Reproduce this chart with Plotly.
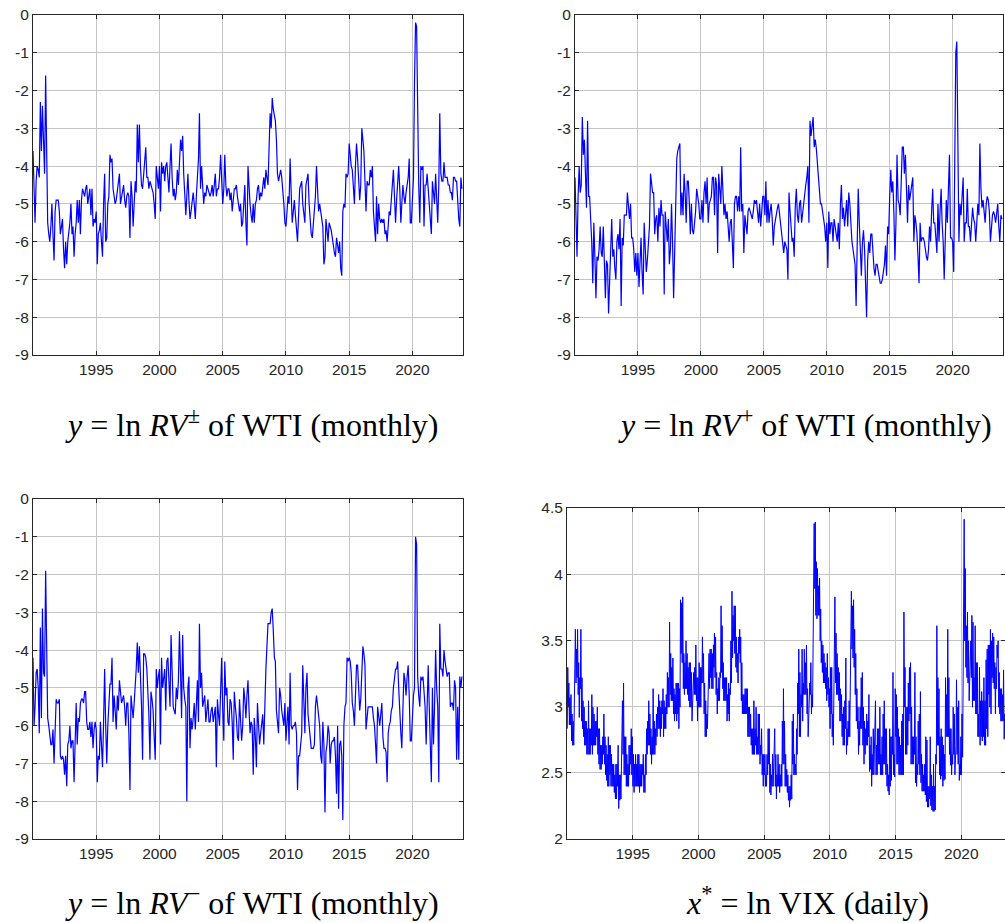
import plotly.graph_objects as go
import pandas as pd
import numpy as np

# ---------------- data ----------------
months = pd.date_range("1990-01-01", periods=408, freq="MS")

rv_total = [
 -3.6,-4.6,-5.5,-4.4,-4.0,-4.1,-4.3,-2.3,-3.6,-2.4,-3.1,-4.2,
 -1.6,-4.5,-5.5,-5.8,-6.0,-5.6,-5.0,-5.8,-6.5,-5.2,-4.9,-4.9,
 -4.9,-5.2,-5.8,-5.6,-5.4,-6.2,-6.7,-6.0,-6.6,-6.0,-5.8,-5.5,
 -5.0,-5.8,-5.6,-6.4,-5.8,-5.5,-4.9,-5.5,-4.9,-5.8,-4.9,-4.6,
 -4.7,-4.8,-4.6,-4.5,-5.0,-4.8,-4.6,-5.3,-4.6,-5.6,-5.4,-5.5,
 -5.2,-6.6,-5.8,-5.7,-5.5,-6.0,-6.4,-5.0,-4.2,-6.0,-5.9,-5.0,
 -4.8,-3.7,-3.9,-3.8,-4.6,-4.8,-5.0,-4.9,-4.7,-4.5,-4.2,-5.0,
 -4.8,-4.6,-4.5,-4.9,-5.1,-4.8,-4.7,-4.8,-5.9,-4.4,-4.8,-5.6,
 -4.7,-4.4,-4.7,-2.9,-3.9,-2.9,-4.0,-4.5,-4.6,-4.3,-4.0,-3.5,
 -4.3,-4.3,-4.6,-4.4,-4.5,-4.6,-4.7,-5.0,-5.4,-4.0,-4.3,-4.6,
 -4.0,-5.2,-3.9,-4.2,-4.0,-4.4,-4.0,-3.9,-4.3,-4.7,-4.0,-3.4,
 -4.3,-4.8,-4.6,-4.9,-4.7,-4.1,-4.5,-4.0,-3.3,-3.6,-3.2,-4.2,
 -5.0,-5.3,-4.8,-4.2,-4.9,-5.4,-5.2,-5.0,-4.7,-5.0,-5.4,-4.8,
 -4.2,-3.8,-2.6,-4.6,-4.0,-4.4,-5.0,-4.7,-4.8,-4.5,-4.6,-4.7,
 -4.8,-4.7,-4.5,-4.8,-4.4,-4.2,-4.8,-4.6,-4.6,-4.3,-3.7,-4.5,
 -5.0,-4.6,-3.7,-4.5,-4.8,-4.6,-4.6,-4.9,-4.7,-5.2,-4.8,-4.6,
 -4.6,-4.5,-4.8,-5.0,-5.2,-5.0,-5.6,-5.5,-4.9,-4.5,-5.5,-6.1,
 -4.0,-4.8,-5.0,-5.3,-5.5,-5.0,-5.5,-5.0,-4.9,-4.6,-4.5,-4.9,
 -4.7,-4.8,-4.5,-4.3,-4.6,-4.1,-4.3,-4.5,-3.5,-2.6,-3.0,-2.2,
 -2.5,-2.7,-2.8,-3.3,-4.2,-4.4,-4.2,-4.1,-4.3,-4.6,-5.0,-5.5,
 -5.6,-5.2,-4.8,-5.0,-3.8,-4.7,-5.5,-5.2,-4.9,-5.3,-5.6,-6.0,
 -5.3,-4.6,-4.5,-4.4,-5.0,-5.3,-5.5,-4.5,-4.3,-4.2,-5.0,-5.4,
 -5.8,-5.9,-5.6,-5.3,-4.8,-4.0,-4.8,-5.2,-5.0,-5.2,-5.5,-5.6,
 -6.6,-6.4,-5.4,-5.8,-6.0,-5.5,-5.6,-5.7,-5.9,-6.2,-6.3,-6.4,
 -5.9,-6.1,-6.3,-6.0,-6.7,-6.9,-5.2,-5.0,-5.1,-4.2,-4.3,-4.2,
 -3.4,-3.7,-4.0,-4.1,-4.5,-5.0,-4.0,-3.4,-3.8,-4.3,-4.9,-4.5,
 -3.0,-3.3,-3.6,-4.4,-5.2,-4.4,-4.5,-4.5,-4.1,-4.3,-4.0,-5.2,
 -5.6,-6.0,-4.8,-5.8,-5.0,-5.4,-5.5,-5.4,-5.5,-5.4,-5.8,-5.7,
 -6.0,-5.6,-5.2,-5.3,-4.8,-4.5,-4.1,-4.8,-5.5,-4.9,-4.3,-4.0,
 -4.6,-5.5,-5.0,-4.5,-4.8,-5.0,-4.7,-4.5,-4.3,-3.8,-5.5,-5.5,
 -5.0,-4.3,-1.8,-0.2,-0.3,-3.0,-4.5,-5.5,-4.0,-4.1,-4.0,-5.6,
 -4.5,-4.5,-4.2,-4.6,-5.0,-5.4,-5.8,-4.4,-4.7,-5.0,-4.2,-4.8,
 -5.5,-4.5,-2.6,-4.2,-4.4,-4.4,-3.9,-4.3,-4.3,-4.3,-4.5,-4.5,
 -4.7,-4.7,-4.9,-4.3,-4.3,-4.4,-4.4,-5.0,-5.4,-5.6,-4.3,-4.6,
]

rv_pos = [
 -4.3,-5.5,-6.4,-4.8,-4.0,-4.7,-4.5,-2.7,-3.7,-3.3,-4.0,-5.1,
 -2.8,-4.8,-4.8,-5.4,-6.0,-7.1,-5.5,-6.4,-7.5,-6.4,-6.5,-6.2,
 -5.6,-6.3,-6.4,-5.6,-7.0,-7.5,-6.5,-6.6,-7.9,-7.0,-6.2,-5.4,
 -6.4,-6.2,-6.7,-7.0,-6.0,-5.8,-6.2,-5.4,-7.7,-5.9,-6.1,-5.3,
 -5.3,-5.3,-4.7,-5.0,-5.4,-5.0,-5.9,-5.9,-6.2,-6.8,-6.3,-6.9,
 -6.3,-7.2,-6.3,-5.9,-6.8,-7.4,-5.5,-6.2,-6.8,-6.5,-6.0,-5.6,
 -4.2,-4.5,-4.7,-4.7,-5.8,-5.4,-5.3,-6.0,-5.1,-5.6,-4.9,-5.3,
 -5.3,-7.4,-5.2,-5.6,-6.0,-5.4,-6.6,-6.2,-5.0,-6.0,-7.5,-6.3,
 -4.7,-3.8,-3.6,-3.5,-3.4,-5.3,-4.7,-5.3,-4.2,-4.7,-5.5,-4.4,
 -4.4,-5.0,-5.8,-5.0,-5.7,-5.8,-5.5,-5.2,-4.6,-4.8,-5.0,-5.4,
 -5.4,-4.9,-5.5,-4.7,-4.4,-5.0,-4.3,-5.5,-5.0,-4.9,-4.8,-4.3,
 -4.3,-5.3,-4.3,-4.5,-6.3,-4.2,-4.5,-5.0,-4.0,-4.5,-5.3,-5.0,
 -5.4,-5.2,-5.8,-6.0,-5.5,-5.4,-6.0,-6.7,-5.0,-4.8,-4.8,-5.2,
 -4.8,-5.2,-3.5,-5.2,-5.0,-6.3,-5.3,-5.6,-5.8,-5.2,-5.1,-5.2,
 -5.3,-5.4,-5.2,-4.9,-5.0,-4.9,-5.2,-5.5,-5.0,-5.6,-5.2,-4.8,
 -4.8,-5.3,-4.4,-5.5,-4.9,-5.5,-5.2,-5.0,-5.4,-6.1,-5.6,-5.4,
 -5.3,-5.1,-5.0,-5.3,-5.5,-5.7,-6.0,-6.3,-6.0,-6.1,-6.2,-7.0,
 -4.7,-5.2,-5.5,-6.0,-5.9,-6.4,-5.1,-4.6,-5.3,-5.5,-5.0,-4.9,
 -5.5,-5.2,-4.9,-4.6,-4.5,-4.3,-4.0,-5.5,-2.8,-3.2,-3.0,-2.7,
 -3.5,-3.3,-3.5,-3.9,-4.3,-4.8,-5.0,-5.0,-5.2,-5.4,-5.6,-6.0,
 -5.5,-6.7,-5.2,-5.8,-5.5,-5.5,-6.0,-5.4,-5.6,-5.8,-6.0,-5.5,
 -6.2,-5.0,-4.5,-5.4,-5.1,-5.6,-5.2,-4.9,-5.6,-4.7,-5.0,-5.6,
 -6.0,-6.2,-6.4,-6.6,-7.7,-5.5,-4.6,-5.5,-6.5,-6.9,-6.0,-5.7,
 -6.2,-7.0,-8.0,-6.5,-6.0,-6.3,-5.8,-5.8,-6.4,-6.7,-6.9,-6.6,
 -6.6,-6.8,-7.0,-7.1,-7.1,-7.0,-6.8,-6.6,-6.1,-6.9,-5.6,-5.8,
 -4.8,-4.1,-4.7,-4.4,-5.2,-6.5,-5.5,-3.7,-4.9,-5.0,-5.3,-4.5,
 -3.5,-3.5,-4.2,-3.7,-5.0,-5.5,-4.5,-4.9,-4.7,-4.5,-4.3,-6.0,
 -5.3,-5.5,-5.8,-6.4,-7.1,-5.5,-6.0,-5.9,-5.9,-6.0,-6.3,-6.4,
 -6.5,-6.2,-5.6,-6.0,-5.2,-4.6,-5.5,-5.5,-5.9,-6.3,-5.0,-6.0,
 -5.2,-4.6,-5.5,-6.0,-7.0,-5.5,-4.9,-5.5,-4.5,-3.7,-5.9,-5.9,
 -6.0,-6.8,-4.0,-1.0,-0.7,-4.5,-6.0,-5.0,-5.3,-4.8,-4.3,-6.0,
 -5.5,-5.5,-4.6,-5.6,-5.6,-6.0,-5.5,-5.1,-5.4,-5.5,-6.0,-5.5,
 -5.0,-5.3,-3.4,-4.6,-5.1,-4.9,-5.2,-5.5,-5.0,-4.8,-4.9,-5.2,
 -6.0,-5.6,-5.3,-5.2,-5.3,-5.5,-5.2,-5.0,-5.6,-6.0,-5.3,-5.4,
]

rv_neg = [
 -4.2,-6.0,-5.5,-4.6,-4.5,-5.0,-6.2,-3.4,-5.8,-2.9,-4.6,-4.7,
 -1.9,-4.0,-5.8,-6.0,-6.3,-6.5,-6.5,-6.1,-7.0,-6.0,-5.3,-5.4,
 -5.4,-5.3,-6.8,-6.9,-6.8,-6.9,-7.3,-6.8,-7.6,-6.5,-6.4,-6.0,
 -6.6,-6.4,-6.4,-7.5,-6.5,-5.4,-6.5,-5.8,-5.9,-5.4,-5.3,-5.3,
 -5.4,-5.1,-5.1,-5.9,-6.1,-6.1,-5.9,-6.3,-5.9,-6.6,-6.1,-5.9,
 -6.1,-7.5,-6.8,-6.9,-5.9,-6.5,-7.1,-5.9,-4.5,-6.0,-7.0,-6.0,
 -5.5,-4.9,-4.9,-4.2,-5.9,-5.2,-5.6,-6.1,-5.2,-5.6,-4.8,-5.1,
 -5.4,-5.3,-5.2,-5.5,-6.0,-5.4,-5.4,-6.2,-7.7,-5.2,-5.5,-5.8,
 -5.4,-5.0,-4.5,-3.8,-4.6,-3.9,-4.5,-5.5,-6.9,-4.1,-4.1,-4.2,
 -4.5,-5.0,-5.7,-6.9,-5.1,-5.3,-5.6,-6.3,-6.9,-4.5,-5.0,-4.7,
 -4.5,-6.5,-4.2,-5.0,-4.8,-4.5,-5.6,-4.3,-4.2,-5.0,-5.5,-3.6,
 -4.5,-5.5,-5.6,-5.7,-5.0,-5.3,-4.8,-3.5,-4.6,-5.8,-3.6,-5.0,
 -5.3,-5.5,-8.0,-5.0,-4.7,-6.6,-5.8,-6.1,-5.8,-5.4,-6.1,-5.5,
 -4.8,-5.9,-3.3,-5.0,-4.6,-5.5,-5.3,-5.2,-5.9,-5.5,-5.3,-5.9,
 -5.9,-5.6,-5.5,-5.9,-5.7,-5.5,-7.1,-5.3,-5.7,-6.0,-5.1,-4.2,
 -5.6,-6.4,-4.3,-5.2,-5.0,-5.9,-6.0,-5.3,-5.4,-5.9,-6.9,-5.1,
 -5.5,-5.8,-6.3,-6.4,-5.3,-6.0,-6.4,-6.0,-5.0,-5.3,-5.8,-5.2,
 -4.8,-5.6,-6.2,-5.9,-6.0,-7.3,-5.8,-6.3,-7.1,-5.4,-6.0,-6.5,
 -6.2,-6.0,-5.7,-6.5,-5.0,-4.5,-3.9,-3.3,-3.3,-3.3,-3.0,-2.9,
 -3.5,-4.2,-4.3,-5.6,-5.9,-6.2,-5.0,-5.2,-5.6,-5.8,-6.0,-5.4,
 -6.4,-5.9,-5.5,-6.5,-4.6,-6.0,-6.1,-6.0,-6.0,-5.9,-6.2,-7.7,
 -6.8,-6.8,-6.5,-6.2,-4.4,-5.5,-6.2,-5.0,-4.6,-5.7,-6.0,-6.3,
 -6.6,-6.6,-6.6,-6.5,-5.5,-5.2,-5.5,-5.8,-6.0,-6.8,-7.0,-5.9,
 -6.5,-8.3,-6.7,-6.5,-6.0,-6.2,-7.0,-6.5,-6.4,-6.4,-6.3,-6.8,
 -7.8,-6.0,-8.2,-6.5,-6.4,-6.8,-8.5,-6.0,-5.5,-5.4,-4.2,-4.3,
 -4.2,-4.3,-4.6,-5.4,-5.6,-6.0,-5.0,-4.4,-4.4,-5.2,-5.6,-5.3,
 -4.5,-3.9,-4.1,-4.4,-6.1,-5.7,-5.5,-5.5,-5.5,-5.5,-5.5,-5.8,
 -6.0,-6.5,-7.0,-5.5,-5.7,-6.0,-5.7,-5.4,-6.3,-6.6,-6.6,-6.7,
 -7.5,-6.2,-6.0,-5.9,-5.6,-5.5,-5.0,-4.8,-4.5,-4.5,-4.3,-5.0,
 -5.8,-6.2,-6.6,-5.5,-4.6,-4.8,-5.2,-4.7,-4.4,-5.2,-6.4,-6.4,
 -5.6,-5.2,-5.0,-1.0,-1.2,-4.7,-5.2,-5.5,-4.7,-4.8,-4.7,-5.2,
 -5.5,-6.5,-5.0,-4.4,-5.5,-6.5,-7.5,-5.0,-6.5,-5.5,-4.0,-5.0,
 -5.5,-7.5,-3.3,-4.5,-4.5,-4.7,-4.0,-4.3,-4.5,-4.7,-4.6,-4.6,
 -5.5,-5.4,-5.4,-5.6,-4.8,-5.0,-6.9,-5.5,-6.9,-4.7,-5.0,-4.7,
]

# VIX level, monthly low and high of the daily closes (plotted as ln VIX)
vix_low = [
 17,20,17.5,17.5,15.5,15,15,21,24,25,22,18.5,
 23,18,17,16,15,15,14,14,14,14,15,14,
 15,15,15,16,14,13,12.5,12.5,13,14,13,12,
 11.5,11,11,12,11,11,11,10.5,10,10,11,9.3,
 9.9,10,13,14,12,12,11,11,11,12,13,12,
 11,10.5,11,11,11,11,10.5,11,11,12,10.5,10.5,
 12,14,15,15,14,13,14,14,14,15,16,17,
 17,16,17,19,16,17,17,19,20,20,22,21,
 21,19,18,19,18,19,17,20,30,28,23,22,
 23,23,22,21,20,20,18,22,22,22,21,18,
 20,20,20,24,24,19,16,16,17,22,23,25,
 23,23,27,25,22,19,21,21,25,26,23,21,
 21,21,18,19,18,22,24,29,33,30,27,26,
 24,30,28,21,19,19,19,19,19,16,16,16,
 15,14,14,14,15,14,14,14,13,14,12,11,
 12,11,11,12,13,10.5,10.3,11,11,13,11,10,
 11,11,10.5,11,11,13,13,11,11,10.5,9.9,9.4,
 9.9,10,13,12,12,12,14,19,16,16,20,18,
 22,22,22,19,16,19,22,19,20,39,49,40,
 39,40,40,33,28,26,24,24,23,21,22,20,
 17,19,16,15,20,24,22,22,21,18,18,16,
 15,15,17,14,15,16,16,23,31,29,27,22,
 18,17,14,15,17,17,15,13,14,15,15,16,
 12.3,12.5,11,12,12,15,12,12,13,13,12,12,
 12,13,13,12,11,10.6,10.3,11,11.5,14,12,11.8,
 16,13,13,12,12,12,12,12,20,14,14,15,
 18,19,13,13,13,14,11.3,11,12,13,12,11.3,
 10.6,10.6,10.6,10.3,9.8,9.4,9.4,10,9.5,9.2,9.1,9.1,
 9.2,13,15,15,12,11.6,11.9,11,11.5,11.6,16,16,
 16,14,12.9,12,13,14,12,15,14,13,11.5,12,
 12,13.7,33,33,27,25,24,21,25,25,20,21,
 21,19,19,16,16,15,16,15.5,16,15,15,17,
 16,22,20,19,25,24,23,19,23,29,20,19,
 18,18,18,15.7,16,13,12.9,13,13,16,12.5,12.1,
]
vix_high = [
 27,24,21.5,22,19,18,21,36,31,36,28,25,
 36,25,21,20,18,18,17,21,17,17,22,20,
 19,18,18,20,17,17,15,15,16,19,16,15,
 14,16,15,15,14,13,13,12,13,13,15,12,
 12,16,21,24,16,16,14,13,15,15,17,16,
 14,13,14,13,14,14,13,13,13,14,12,14,
 17,18,21,19,17,16,23,18,17,19,20,22,
 21,20,21,23,21,20,22,26,25,38,30,27,
 29,23,22,24,24,24,23,45,44,46,30,28,
 33,30,27,28,28,26,22,26,27,32,25,25,
 28,27,27,34,30,24,21,19,21,30,31,31,
 30,32,35,34,26,23,25,26,43,37,28,25,
 25,25,22,24,23,33,48,40,43,43,34,30,
 34,36,34,28,22,22,23,23,23,20,20,19,
 17,17,21,17,20,16,19,19,15,17,14,14,
 14,12,14,17,17,13,12,14,14,17,14,12,
 14,13,12,13,18,23,18,14,12.5,12,11,11,
 12,18,19,14,13,17,24,31,26,22,31,24,
 31,28,32,23,20,24,28,22,46,80,81,60,
 57,50,53,42,33,32,30,28,27,30,25,23,
 27,27,19,22,46,35,30,27,26,23,22,19,
 20,21,29,17,18,21,25,48,43,45,36,30,
 23,20,18,20,25,26,20,18,17,19,18,22,
 15,16,14,17,15,21,15,17,17,20,14,16,
 19,21,17,17,13,12,17,16,16,26,14,23,
 22,20,17,16,15,18,19,41,27,20,20,24,
 27,28,20,16,16,26,16,13,18,19,22.5,14,
 13,12,13,16,15.6,11,11,16,12,11,13,11,
 14,37,25,23,16,17,16,15,14,25,22,36,
 25,17,17,14,20,19,14,24.6,20,21,13,16,
 19,40,82.7,57,37,41,33,24,33,40,38,25,
 37,28,28,19,27,21,22.5,21,25,21,28.6,31,
 32,32,36,33,35,34,28,27,32,33,26,23,
 23,22,26.5,19,18.5,16,14.5,17.9,18,21.7,15,13,
]

year_ticks = [1995, 2000, 2005, 2010, 2015, 2020]
rv_ticks = [0, -1, -2, -3, -4, -5, -6, -7, -8, -9]
vix_ticks = [2, 2.5, 3, 3.5, 4, 4.5]

# ---------------- build ----------------
vix_x, vix_y = [], []
for m, lo, hi in zip(months, vix_low, vix_high):
    vix_x += [m + pd.Timedelta(days=7), m + pd.Timedelta(days=21)]
    vix_y += [np.log(lo), np.log(hi)]

W, H = 1005, 923
def xd(a, b):
    return [a / W, min(b / W, 1.0)]
def yd(top, bot):
    return [1 - bot / H, 1 - top / H]

BLUE = "#0000ff"
fig = go.Figure()
fig.add_trace(go.Scatter(x=months, y=rv_total, mode="lines", line=dict(color=BLUE, width=1.2), xaxis="x", yaxis="y"))
fig.add_trace(go.Scatter(x=months, y=rv_pos, mode="lines", line=dict(color=BLUE, width=1.2), xaxis="x2", yaxis="y2"))
fig.add_trace(go.Scatter(x=months, y=rv_neg, mode="lines", line=dict(color=BLUE, width=1.2), xaxis="x3", yaxis="y3"))
fig.add_trace(go.Scatter(x=vix_x, y=vix_y, mode="lines", line=dict(color=BLUE, width=1), xaxis="x4", yaxis="y4"))

tick_font = dict(family="Liberation Sans, Arial, sans-serif", size=15.5, color="#262626")
def xaxis(dom, anchor, end="2024-01-01"):
    return dict(domain=dom, anchor=anchor, type="date",
                range=["1990-01-01", end],
                tickvals=[f"{y}-01-01" for y in year_ticks],
                ticktext=[str(y) for y in year_ticks],
                showgrid=True, gridcolor="#c4c4c4", gridwidth=1,
                showline=True, linecolor="#262626", linewidth=1, mirror="ticks",
                ticks="inside", ticklen=4, tickcolor="#262626",
                tickfont=tick_font, zeroline=False, fixedrange=True)
def yaxis(dom, anchor, rng, tv):
    return dict(domain=dom, anchor=anchor, range=rng,
                tickvals=tv, ticktext=[("%g" % v) for v in tv],
                showgrid=True, gridcolor="#c4c4c4", gridwidth=1,
                showline=True, linecolor="#262626", linewidth=1, mirror="ticks",
                ticks="inside", ticklen=4, tickcolor="#262626",
                tickfont=tick_font, zeroline=False, fixedrange=True)

fig.update_layout(
    width=W, height=H, margin=dict(l=0, r=0, t=0, b=0, autoexpand=False),
    paper_bgcolor="white", plot_bgcolor="white", showlegend=False,
    xaxis=xaxis(xd(33, 463), "y"),   yaxis=yaxis(yd(15, 355), "x", [-9, 0], rv_ticks),
    xaxis2=xaxis(xd(575, 1003), "y2"), yaxis2=yaxis(yd(15, 355), "x2", [-9, 0], rv_ticks),
    xaxis3=xaxis(xd(33, 463), "y3"),  yaxis3=yaxis(yd(499, 839), "x3", [-9, 0], rv_ticks),
    xaxis4=xaxis(xd(567, 1005), "y4", end="2023-05-01"),
    yaxis4=yaxis(yd(508, 839), "x4", [2, 4.5], vix_ticks),
)

title_font = dict(family="Liberation Serif, Times New Roman, serif", size=32, color="#000000")
titles = [
    (252, 423, "<i>y</i> = ln <i>RV</i><sup>±</sup> of WTI (monthly)"),
    (805, 423, "<i>y</i> = ln <i>RV</i><sup>+</sup> of WTI (monthly)"),
    (252, 901, "<i>y</i> = ln <i>RV</i><sup>−</sup> of WTI (monthly)"),
    (807, 901, "<i>x</i><sup>*</sup> = ln VIX (daily)"),
]
for cx, cy, t in titles:
    fig.add_annotation(x=cx / W, y=1 - cy / H, xref="paper", yref="paper", text=t,
                       showarrow=False, font=title_font, xanchor="center", yanchor="middle")

fig.write_html("out.html", config={"displayModeBar": False},
               post_script="document.body.style.margin='0';document.body.style.overflow='hidden';")
